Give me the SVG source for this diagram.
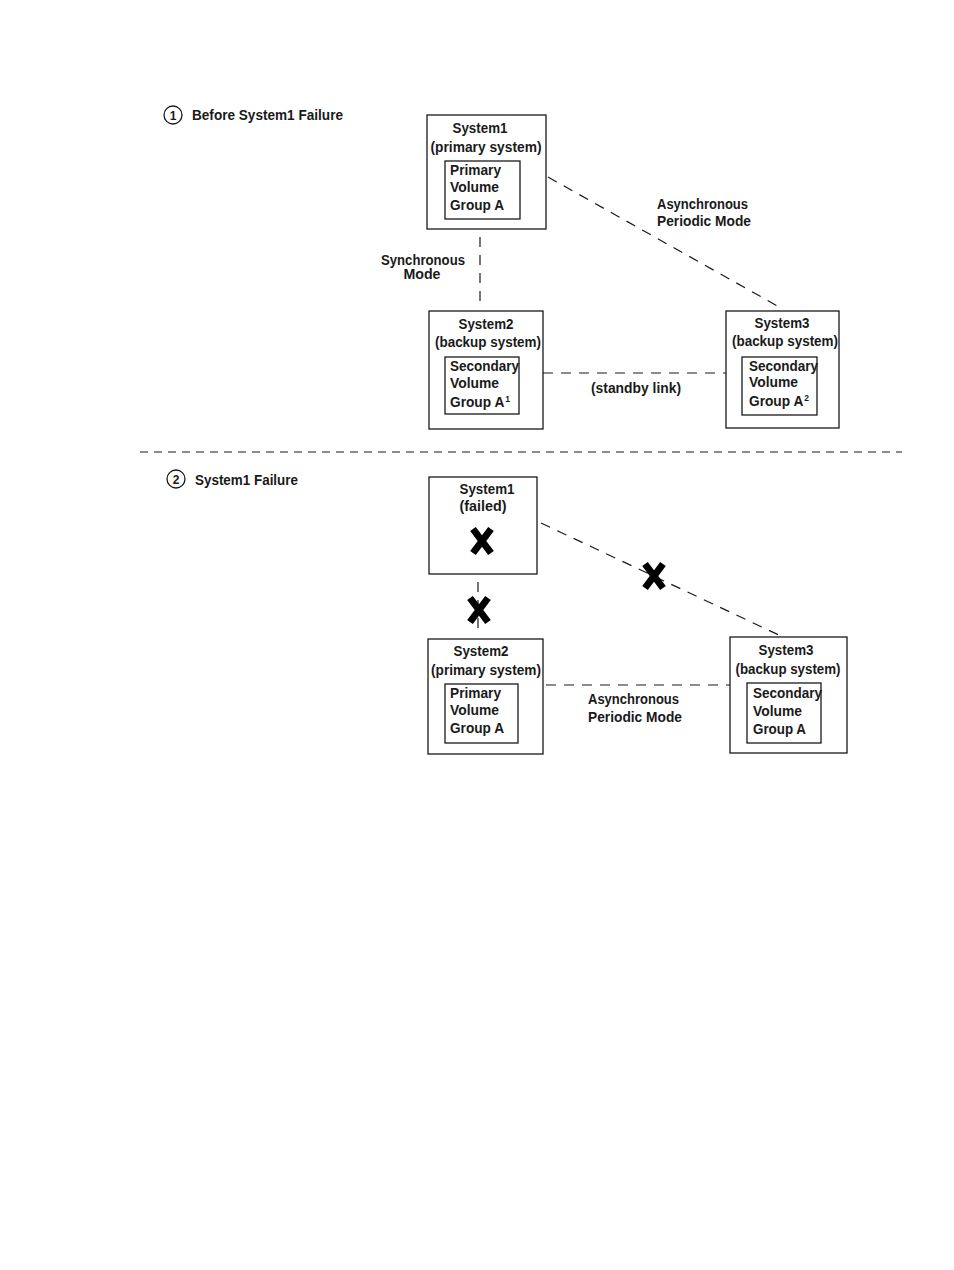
<svg xmlns="http://www.w3.org/2000/svg" xmlns:xlink="http://www.w3.org/1999/xlink" width="954" height="1270" viewBox="0 0 954 1270">
<style>
text{font-family:"Liberation Sans","DejaVu Sans",sans-serif;font-weight:bold;font-size:14.5px;fill:#1a1a1a}
.c{text-anchor:middle}
.sup{font-size:9px}
.box{fill:#fff;stroke:#1a1a1a;stroke-width:1.3}
.dash{fill:none;stroke:#1a1a1a;stroke-width:1.2;stroke-dasharray:10 8}
.sep{fill:none;stroke:#1a1a1a;stroke-width:1.2;stroke-dasharray:8 6}
.num{fill:#fff;stroke:#1a1a1a;stroke-width:1.3}
.xm{stroke:#000;stroke-width:7;fill:none}
</style>
<defs>
<g id="xmark"><path class="xm" d="M-9,-12 L9,12 M9,-12 L-9,12"/></g>
</defs>
<rect width="954" height="1270" fill="#fff"/>

<g id="connectors">
<line class="dash" x1="480" y1="237" x2="480" y2="306"/>
<line class="dash" x1="548" y1="177" x2="781" y2="308"/>
<line class="dash" x1="543" y1="373" x2="726" y2="373"/>
<line class="sep" x1="140" y1="452" x2="902" y2="452"/>
<line class="dash" x1="478" y1="582" x2="478" y2="635"/>
<line class="dash" x1="541" y1="523" x2="783" y2="637"/>
<line class="dash" x1="546" y1="685" x2="730" y2="685"/>
</g>

<g id="labels">
<circle class="num" cx="173" cy="115" r="9"/>
<text class="c" x="173" y="120" style="font-size:12px">1</text>
<text x="192" y="120" textLength="151" lengthAdjust="spacingAndGlyphs">Before System1 Failure</text>
<text class="c" x="423" y="265" textLength="84" lengthAdjust="spacingAndGlyphs">Synchronous</text>
<text class="c" x="422" y="279" textLength="37" lengthAdjust="spacingAndGlyphs">Mode</text>
<text x="657" y="209" textLength="91" lengthAdjust="spacingAndGlyphs">Asynchronous</text>
<text x="657" y="226" textLength="94" lengthAdjust="spacingAndGlyphs">Periodic Mode</text>
<text x="591" y="393" textLength="90" lengthAdjust="spacingAndGlyphs">(standby link)</text>
<circle class="num" cx="176" cy="479" r="9"/>
<text class="c" x="176" y="484" style="font-size:12px">2</text>
<text x="195" y="485" textLength="103" lengthAdjust="spacingAndGlyphs">System1 Failure</text>
<text x="588" y="704" textLength="91" lengthAdjust="spacingAndGlyphs">Asynchronous</text>
<text x="588" y="722" textLength="94" lengthAdjust="spacingAndGlyphs">Periodic Mode</text>
</g>

<g id="sys1-top">
<rect class="box" x="427" y="115" width="119" height="114"/>
<text class="c" x="480" y="133" textLength="55" lengthAdjust="spacingAndGlyphs">System1</text>
<text class="c" x="486" y="152" textLength="111" lengthAdjust="spacingAndGlyphs">(primary system)</text>
<rect class="box" x="445" y="161" width="75" height="58"/>
<text x="450" y="175" textLength="51" lengthAdjust="spacingAndGlyphs">Primary</text>
<text x="450" y="192" textLength="49" lengthAdjust="spacingAndGlyphs">Volume</text>
<text x="450" y="210" textLength="54" lengthAdjust="spacingAndGlyphs">Group A</text>
</g>

<g id="sys2-top">
<rect class="box" x="429" y="311" width="114" height="118"/>
<text class="c" x="486" y="329" textLength="55" lengthAdjust="spacingAndGlyphs">System2</text>
<text class="c" x="488" y="347" textLength="106" lengthAdjust="spacingAndGlyphs">(backup system)</text>
<rect class="box" x="445" y="357" width="74" height="57"/>
<text x="450" y="371" textLength="69" lengthAdjust="spacingAndGlyphs">Secondary</text>
<text x="450" y="388" textLength="49" lengthAdjust="spacingAndGlyphs">Volume</text>
<text x="450" y="407" textLength="60" lengthAdjust="spacingAndGlyphs">Group A<tspan class="sup" dx="1" dy="-5">1</tspan></text>
</g>

<g id="sys3-top">
<rect class="box" x="726" y="311" width="113" height="117"/>
<text class="c" x="782" y="328" textLength="55" lengthAdjust="spacingAndGlyphs">System3</text>
<text class="c" x="785" y="346" textLength="106" lengthAdjust="spacingAndGlyphs">(backup system)</text>
<rect class="box" x="742" y="357" width="75" height="58"/>
<text x="749" y="371" textLength="69" lengthAdjust="spacingAndGlyphs">Secondary</text>
<text x="749" y="387" textLength="49" lengthAdjust="spacingAndGlyphs">Volume</text>
<text x="749" y="406" textLength="60" lengthAdjust="spacingAndGlyphs">Group A<tspan class="sup" dx="1" dy="-5">2</tspan></text>
</g>

<g id="sys1-failed">
<rect class="box" x="429" y="477" width="108" height="97"/>
<text class="c" x="487" y="494" textLength="55" lengthAdjust="spacingAndGlyphs">System1</text>
<text class="c" x="483" y="511" textLength="47" lengthAdjust="spacingAndGlyphs">(failed)</text>
<use xlink:href="#xmark" x="482" y="541"/>
</g>

<g id="x-marks">
<use xlink:href="#xmark" x="479" y="610"/>
<use xlink:href="#xmark" x="654" y="576"/>
</g>

<g id="sys2-bottom">
<rect class="box" x="428" y="639" width="115" height="115"/>
<text class="c" x="481" y="656" textLength="55" lengthAdjust="spacingAndGlyphs">System2</text>
<text class="c" x="486" y="675" textLength="110" lengthAdjust="spacingAndGlyphs">(primary system)</text>
<rect class="box" x="445" y="684" width="73" height="59"/>
<text x="450" y="698" textLength="51" lengthAdjust="spacingAndGlyphs">Primary</text>
<text x="450" y="715" textLength="49" lengthAdjust="spacingAndGlyphs">Volume</text>
<text x="450" y="733" textLength="54" lengthAdjust="spacingAndGlyphs">Group A</text>
</g>

<g id="sys3-bottom">
<rect class="box" x="730" y="637" width="117" height="116"/>
<text class="c" x="786" y="655" textLength="55" lengthAdjust="spacingAndGlyphs">System3</text>
<text class="c" x="788" y="674" textLength="105" lengthAdjust="spacingAndGlyphs">(backup system)</text>
<rect class="box" x="747" y="683" width="74" height="60"/>
<text x="753" y="698" textLength="69" lengthAdjust="spacingAndGlyphs">Secondary</text>
<text x="753" y="716" textLength="49" lengthAdjust="spacingAndGlyphs">Volume</text>
<text x="753" y="734" textLength="53" lengthAdjust="spacingAndGlyphs">Group A</text>
</g>
</svg>
